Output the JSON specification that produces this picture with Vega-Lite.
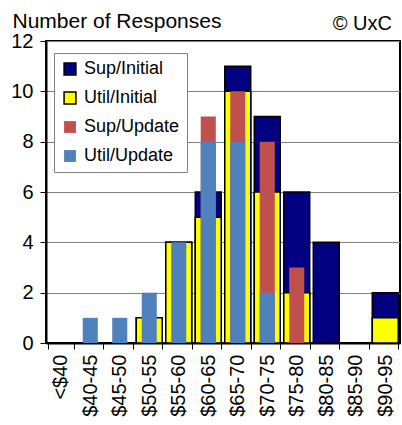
{
  "$schema": "https://vega.github.io/schema/vega-lite/v6.json",
  "width": 354,
  "height": 302,
  "autosize": {"type": "none"},
  "padding": {"left": 46, "top": 41, "right": 2, "bottom": 82},
  "background": "white",
  "title": {"text": "© UxC", "anchor": "end", "frame": "group", "dx": -8, "offset": -40, "baseline": "alphabetic", "fontSize": 20, "fontWeight": "normal", "font": "Liberation Sans", "color": "black"},
  "config": {
    "font": "Liberation Sans",
    "view": {"stroke": "black", "strokeWidth": 2},
    "axis": {"labelColor": "black", "titleColor": "black", "labelFont": "Liberation Sans", "titleFont": "Liberation Sans"}
  },
  "data": {
    "values": [
      {"range": "$50-55", "series": "Sup/Initial", "count": 1},
      {"range": "$55-60", "series": "Sup/Initial", "count": 4},
      {"range": "$60-65", "series": "Sup/Initial", "count": 6},
      {"range": "$65-70", "series": "Sup/Initial", "count": 11},
      {"range": "$70-75", "series": "Sup/Initial", "count": 9},
      {"range": "$75-80", "series": "Sup/Initial", "count": 6},
      {"range": "$80-85", "series": "Sup/Initial", "count": 4},
      {"range": "$90-95", "series": "Sup/Initial", "count": 2},
      {"range": "$50-55", "series": "Util/Initial", "count": 1},
      {"range": "$55-60", "series": "Util/Initial", "count": 4},
      {"range": "$60-65", "series": "Util/Initial", "count": 5},
      {"range": "$65-70", "series": "Util/Initial", "count": 10},
      {"range": "$70-75", "series": "Util/Initial", "count": 6},
      {"range": "$75-80", "series": "Util/Initial", "count": 2},
      {"range": "$90-95", "series": "Util/Initial", "count": 1},
      {"range": "$60-65", "series": "Sup/Update", "count": 9},
      {"range": "$65-70", "series": "Sup/Update", "count": 10},
      {"range": "$70-75", "series": "Sup/Update", "count": 8},
      {"range": "$75-80", "series": "Sup/Update", "count": 3},
      {"range": "$40-45", "series": "Util/Update", "count": 1},
      {"range": "$45-50", "series": "Util/Update", "count": 1},
      {"range": "$50-55", "series": "Util/Update", "count": 2},
      {"range": "$55-60", "series": "Util/Update", "count": 4},
      {"range": "$60-65", "series": "Util/Update", "count": 8},
      {"range": "$65-70", "series": "Util/Update", "count": 8},
      {"range": "$70-75", "series": "Util/Update", "count": 2}
    ]
  },
  "encoding": {
    "x": {
      "field": "range", "type": "nominal",
      "sort": ["<$40", "$40-45", "$45-50", "$50-55", "$55-60", "$60-65", "$65-70", "$70-75", "$75-80", "$80-85", "$85-90", "$90-95"],
      "scale": {"domain": ["<$40", "$40-45", "$45-50", "$50-55", "$55-60", "$60-65", "$65-70", "$70-75", "$75-80", "$80-85", "$85-90", "$90-95"], "paddingInner": 0.12, "paddingOuter": 0.06},
      "axis": {"title": null, "labelAngle": -90, "labelAlign": "right", "labelBaseline": "middle", "labelFontSize": 20, "labelPadding": 5, "tickBand": "extent", "tickSize": 6, "tickColor": "black", "domainColor": "black", "domainWidth": 2, "grid": false}
    },
    "y": {
      "field": "count", "type": "quantitative", "stack": null,
      "scale": {"domain": [0, 12], "nice": false},
      "axis": {"values": [0, 2, 4, 6, 8, 10, 12], "title": "Number of Responses", "titleAngle": 0, "titleAlign": "left", "titleBaseline": "alphabetic", "titleX": -34, "titleY": -14, "titleFontSize": 21, "titleFontWeight": "normal", "labelFontSize": 20, "labelPadding": 7, "tickSize": 6, "tickColor": "black", "domainColor": "black", "domainWidth": 2, "grid": true, "gridColor": "#808080", "gridWidth": 1}
    },
    "color": {
      "field": "series", "type": "nominal",
      "scale": {"domain": ["Sup/Initial", "Util/Initial", "Sup/Update", "Util/Update"], "range": ["#000080", "#FFFF00", "#C0504D", "#4F81BD"]},
      "legend": {
        "title": null, "orient": "none", "legendX": 8, "legendY": 12,
        "fillColor": "white", "strokeColor": "#808080", "padding": 7,
        "symbolType": "square", "symbolSize": 140, "symbolStrokeWidth": 1.5,
        "labelFontSize": 18, "labelColor": "black", "labelFont": "Liberation Sans", "rowPadding": 11, "labelOffset": 5, "labelLimit": 200,
        "encode": {"symbols": {"update": {"stroke": {"signal": "indexof(['Sup/Initial','Util/Initial'], datum.value) >= 0 ? 'black' : 'transparent'"}, "fillOpacity": {"value": 1}}}}
      }
    }
  },
  "layer": [
    {"transform": [{"filter": "datum.series == 'Sup/Initial'"}], "mark": {"type": "bar", "stroke": "black", "strokeWidth": 1.5, "fillOpacity": 1}},
    {"transform": [{"filter": "datum.series == 'Util/Initial'"}], "mark": {"type": "bar", "stroke": "black", "strokeWidth": 1.5, "fillOpacity": 1}},
    {"transform": [{"filter": "datum.series == 'Sup/Update'"}], "mark": {"type": "bar", "width": {"band": 0.58}, "fillOpacity": 1}},
    {"transform": [{"filter": "datum.series == 'Util/Update'"}], "mark": {"type": "bar", "width": {"band": 0.58}, "fillOpacity": 1}}
  ]
}
